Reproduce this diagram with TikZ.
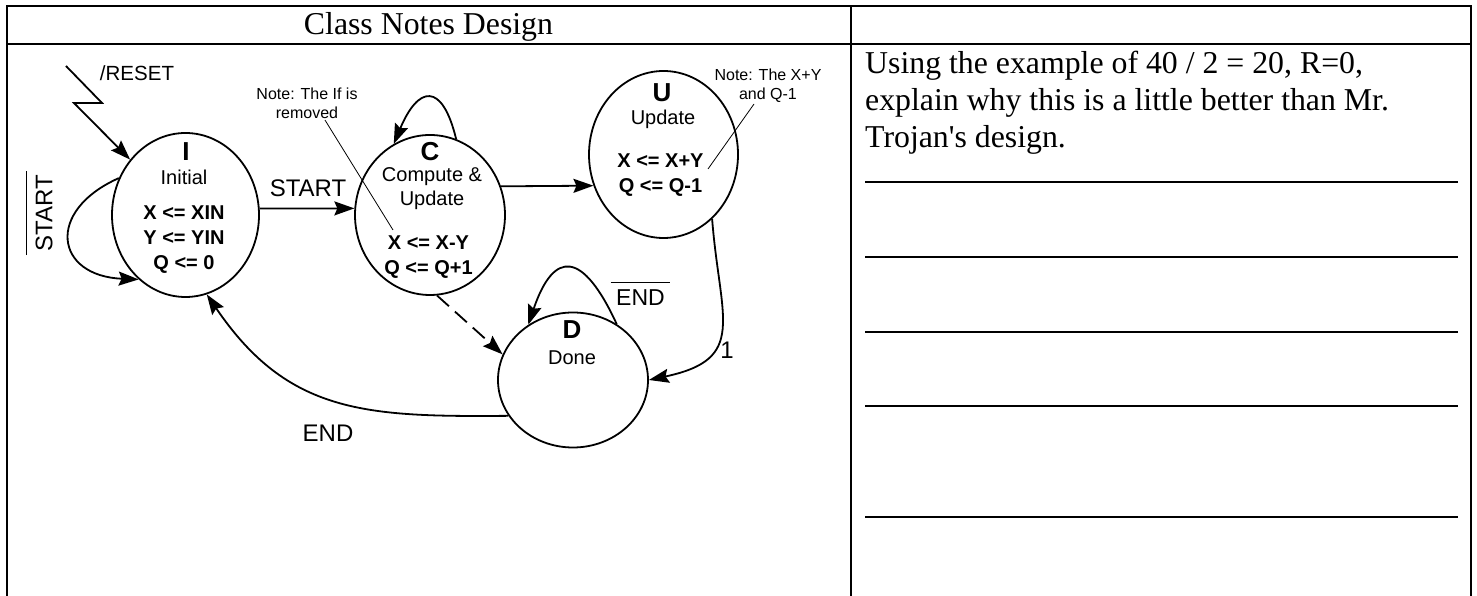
\documentclass[tikz,border=0pt]{standalone}
\usepackage{fontspec}
\setmainfont{Liberation Serif}
\setsansfont{Liberation Sans}
\usetikzlibrary{arrows.meta,shapes.geometric}

\begin{document}
\begin{tikzpicture}[x=1pt,y=1pt,
  stnode/.style={draw, ellipse, line width=1.8pt, inner sep=0pt},
  stname/.style={font=\sffamily\bfseries\fontsize{26}{30}\selectfont, inner sep=0pt},
  stdesc/.style={font=\sffamily\fontsize{20}{24}\selectfont, align=center, inner sep=0pt},
  stact/.style={font=\sffamily\bfseries\fontsize{20}{25}\selectfont, align=center, inner sep=0pt},
  trlbl/.style={font=\sffamily\fontsize{24}{28}\selectfont, inner sep=0pt},
  notelbl/.style={font=\sffamily\fontsize{16}{19}\selectfont, align=center, inner sep=1pt},
  arr/.style={line width=1.8pt, -{Stealth[length=20pt,width=14pt,inset=3pt]}},
  leader/.style={line width=0.8pt}]
  \useasboundingbox (0,0) rectangle (1477,596);
  % tabela
  \draw[line width=2pt] (6.5,-5) -- (6.5,590) -- (1470.5,590) -- (1470.5,-5);
  \draw[line width=2pt] (6.5,552) -- (1470.5,552);
  \draw[line width=2pt] (850.5,590) -- (850.5,-5);
  \node[anchor=base, inner sep=0pt, font=\fontsize{31.8}{37}\selectfont] (title) at (428.5,561) {Class Notes Design};
  \node[anchor=north west, inner sep=0pt, align=left, font=\fontsize{31.8}{37}\selectfont] (quest) at (865,545)
    {Using the example of 40 / 2 = 20, R=0,\\explain why this is a little better than Mr.\\Trojan\textquotesingle s design.};
  % linhas de resposta
  \foreach \y in {414,339,264,190,79} \draw[line width=2pt] (865,\y) -- (1458,\y);
  % estados
  \node[stnode, minimum width=147pt, minimum height=164pt] (I) at (185.5,381) {};
  \node[stnode, minimum width=150pt, minimum height=160pt] (C) at (430,381) {};
  \node[stnode, minimum width=149pt, minimum height=167pt] (U) at (663.5,441.5) {};
  \node[stnode, minimum width=150pt, minimum height=135pt] (D) at (573,216) {};
  % textos dos estados
  \node[stname] (Iname) at (186,444) {I};
  \node[stdesc] (Idesc) at (184,419) {Initial};
  \node[stact] (Iact) at (184,356) {X <= XIN\\Y <= YIN\\Q <= 0};
  \node[stname] (Cname) at (430,444) {C};
  \node[stdesc] (Cdesc) at (432,407) {Compute \&\\Update};
  \node[stact] (Cact) at (428.5,338.5) {X <= X-Y\\Q <= Q+1};
  \node[stname] (Uname) at (662,503) {U};
  \node[stdesc] (Udesc) at (663,477) {Update};
  \node[stact] (Uact) at (660.5,421) {X <= X+Y\\Q <= Q-1};
  \node[stname] (Dname) at (572,266) {D};
  \node[stdesc] (Ddesc) at (572,238) {Done};
  % reset
  \coordinate (rst) at (66,530);
  \draw[arr] (rst) -- (102,493) -- (74,493) -- (I.135);
  \node[font=\sffamily\fontsize{20.5}{24}\selectfont, inner sep=0pt] (rlbl) at (137,523) {/RESET};
  % transicoes
  \draw[arr] (I.151) .. controls (45,385) and (55,320) .. (I.234);
  \node[trlbl, rotate=90, inner xsep=4pt, inner ysep=9pt, outer sep=0pt] (nstart) at (44,383) {START};
  \draw[line width=1.5pt] (nstart.north west) -- (nstart.north east);
  \draw[arr] (I.5) -- (C.175);
  \node[trlbl] (lstart) at (308,408) {START};
  \draw[arr] (C.71) .. controls (442,515) and (418,510) .. (C.117);
  \draw[arr] (C.22) -- (U.204);
  \draw[arr, dash pattern=on 16pt off 8pt] (C.-85) -- (D.160);
  \draw[arr] (U.-53) .. controls (720,276) and (748,237) .. (D.east);
  \node[trlbl] (lone) at (727,246) {1};
  \draw[arr] (D.52) .. controls (583,345) and (554,347) .. (D.129);
  \node[trlbl, font=\sffamily\fontsize{23}{27}\selectfont, inner xsep=5.5pt, inner ysep=7.7pt, outer sep=0pt] (nendb) at (640.5,298) {END};
  \draw[line width=1.5pt] (nendb.north west) -- (nendb.north east);
  \draw[arr] (D.209) .. controls (366,179) and (288,182) .. (I.-75);
  \node[trlbl] (lend) at (328,163) {END};
  % notas
  \node[notelbl] (noteC) at (307,492.5) {Note: The If is\\removed};
  \coordinate (cnote) at (393,366);
  \draw[leader] ([xshift=18pt]noteC.south) -- (cnote);
  \node[notelbl] (noteU) at (768,510) {Note: The X+Y\\and Q-1};
  \coordinate (unote) at (708,427);
  \draw[leader] ([xshift=-14pt]noteU.south) -- (unote);
\end{tikzpicture}
\end{document}
